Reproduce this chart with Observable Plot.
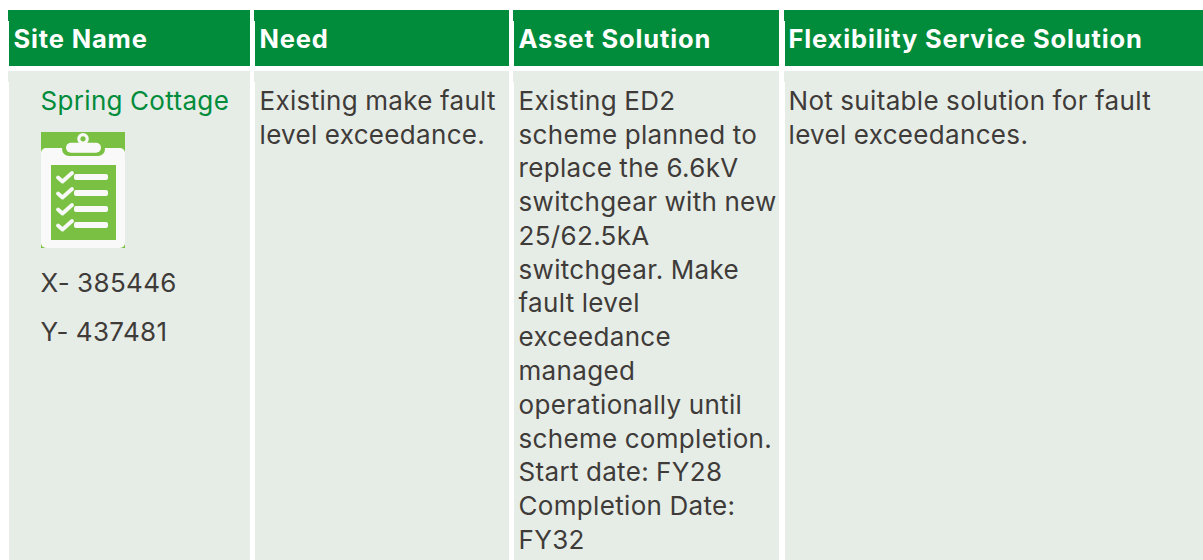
<!DOCTYPE html>
<html><head><meta charset="utf-8">
<script src="https://cdn.jsdelivr.net/npm/d3@7"></script>
<script src="https://cdn.jsdelivr.net/npm/@observablehq/plot@0.6"></script>
<style>
html,body{margin:0;padding:0;background:#fff;overflow:hidden}
svg{display:block}
svg text{letter-spacing:.33px;word-spacing:-.5px}
svg g[font-weight="700"] text{letter-spacing:.85px;word-spacing:0}
</style></head><body><div id="c"></div>
<script>
// table content
const columnNames = ["Site Name","Need","Asset Solution","Flexibility Service Solution"];
const siteName = ["Spring Cottage"];
const siteCoords = ["X- 385446","Y- 437481"];
const needLines = ["Existing make fault","level exceedance."];
const assetLines = ["Existing ED2","scheme planned to","replace the 6.6kV","switchgear with new","25/62.5kA","switchgear. Make","fault level","exceedance","managed","operationally until","scheme completion.","Start date: FY28","Completion Date:","FY32"];
const flexLines = ["Not suitable solution for fault","level exceedances."];

// layout (pixels of the page, the scales are identity)
const W=1203,H=560;
const colLeft=[9,255,514,785], colRight=[250,509,779,1203], textLeft=[13,259,518,788];
const headTop=10, headBottom=66, bodyTop=71, firstLine=101, lineStep=33.77;
const cols=columnNames.map((name,i)=>({name,x1:colLeft[i],x2:colRight[i],tx:textLeft[i]}));
const lines=(arr,x)=>arr.map((t,i)=>({t,x,y:firstLine+i*lineStep}));
const bodyText=[...lines(needLines,259),...lines(assetLines,518),...lines(flexLines,788)];
const coords=[{t:siteCoords[0],x:40,y:283},{t:siteCoords[1],x:40,y:332}];

const green="#008c3a", pale="#e6ede7", ink="#3f3b39", leaf="#7ac143", paper="#f9f9f9";
const font="Inter";
// icon parts
const rows=[177,193,209,225];
const checks=rows.flatMap((y,k)=>[[57.5,y],[62,y+4],[71.5,y-4.5]].map(([x,yy])=>({x,y:yy,k})));

const plot=Plot.plot({
  width:W,height:H,margin:0,
  x:{domain:[0,W],range:[0,W],axis:null},
  y:{domain:[0,H],range:[0,H],axis:null},
  style:{background:"#fff",fontFamily:font},
  marks:[
    Plot.rect(cols,{x1:"x1",x2:"x2",y1:headTop,y2:headBottom,fill:green}),
    Plot.rect(cols,{x1:d=>d.x1-1,x2:"x1",y1:headTop,y2:21,fill:green}),
    Plot.rect(cols,{x1:"x1",x2:"x2",y1:bodyTop,y2:H,fill:pale}),
    Plot.rect(cols,{x1:d=>d.x1-1,x2:"x1",y1:bodyTop,y2:82,fill:pale}),
    Plot.text(cols,{x:"tx",y:39.5,text:"name",textAnchor:"start",lineAnchor:"middle",fill:"#fff",fontWeight:700,fontSize:25.5}),
    Plot.text(siteName,{x:[40],y:[101],text:d=>d,textAnchor:"start",lineAnchor:"middle",fill:green,fontSize:26}),
    Plot.text(coords,{x:"x",y:"y",text:"t",textAnchor:"start",lineAnchor:"middle",fill:ink,fontSize:26}),
    Plot.text(bodyText,{x:"x",y:"y",text:"t",textAnchor:"start",lineAnchor:"middle",fill:ink,fontSize:26}),
    // clipboard icon
    Plot.rect([0],{x1:41,x2:125,y1:132,y2:248,fill:leaf}),
    Plot.rect([0],{x1:41,x2:125,y1:148,y2:248,fill:paper,rx:5}),
    Plot.rect([0],{x1:62,x2:105,y1:142,y2:156,fill:leaf,rx:7}),
    Plot.dot([0],{x:[82.5],y:[138.3],r:5.8,fill:paper}),
    Plot.rect([0],{x1:66,x2:101,y1:142.7,y2:152.7,fill:paper,rx:5}),
    Plot.dot([0],{x:[82.5],y:[138.3],r:2.6,fill:leaf}),
    Plot.rect([0],{x1:51,x2:116,y1:165,y2:240,fill:leaf}),
    Plot.rect(rows,{x1:74,x2:108,y1:d=>d-3,y2:d=>d+3,fill:paper,rx:2}),
    Plot.line(checks,{x:"x",y:"y",z:"k",stroke:paper,strokeWidth:3.8,curve:"linear"})
  ]
});
document.getElementById("c").append(plot);
</script></body></html>
